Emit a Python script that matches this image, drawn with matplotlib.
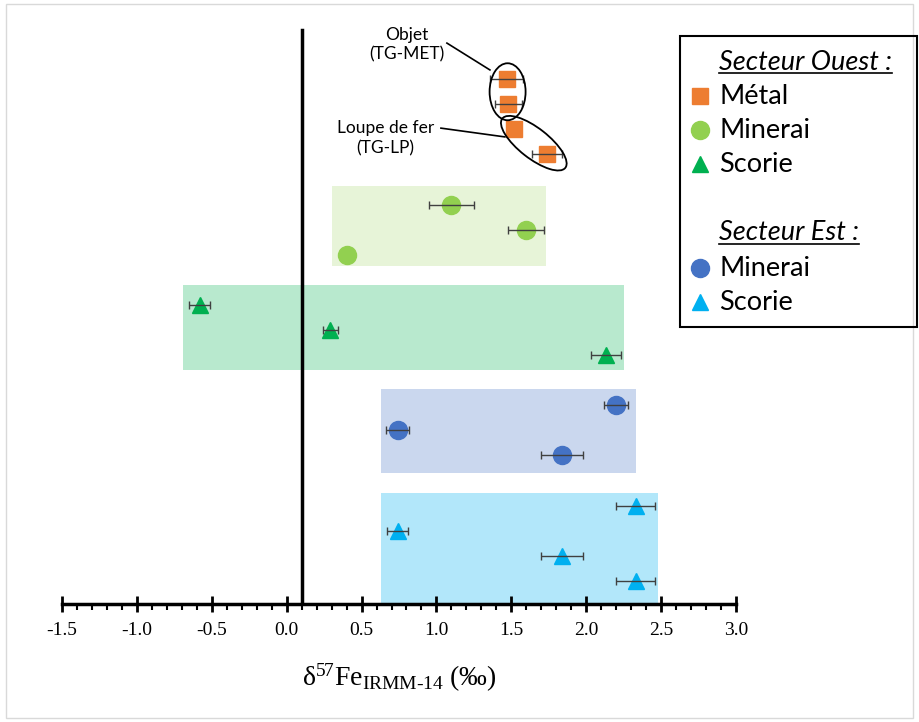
import matplotlib.pyplot as plt
from matplotlib.patches import Rectangle, Ellipse
from matplotlib.lines import Line2D
from matplotlib.transforms import ScaledTranslation

plt.rcParams['mathtext.fontset'] = 'custom'
plt.rcParams['mathtext.rm'] = 'Liberation Serif'

# delta57Fe values (per mil) and 2SD, one row per sample, top to bottom
# (0 = error bar hidden behind the marker)
metal_x = [1.47, 1.48, 1.52, 1.74]
metal_err = [0.11, 0.09, 0.0, 0.10]
min_ouest_x = [1.10, 1.60, 0.40]
min_ouest_err = [0.15, 0.12, 0.0]
sco_ouest_x = [-0.58, 0.29, 2.13]
sco_ouest_err = [0.07, 0.05, 0.10]
min_est_x = [2.20, 0.74, 1.84]
min_est_err = [0.08, 0.08, 0.14]
sco_est_x = [2.33, 0.74, 1.84, 2.33]
sco_est_err = [0.13, 0.07, 0.14, 0.13]

# row index of each sample on the (hidden) vertical axis
metal_y = [0, 1, 2, 3]
min_ouest_y = [5, 6, 7]
sco_ouest_y = [9, 10, 11]
min_est_y = [13, 14, 15]
sco_est_y = [17, 18, 19, 20]

# shaded ranges behind each group: (xmin, xmax, ytop, ybottom)
boxes = [
    (0.30, 1.73, 4.25, 7.45, '#92D050', 0.22),
    (-0.69, 2.25, 8.2, 11.6, '#00B050', 0.28),
    (0.63, 2.33, 12.35, 15.7, '#4472C4', 0.28),
    (0.63, 2.48, 16.5, 20.92, '#00B0F0', 0.30),
]

orange = '#ED7D31'
lgreen = '#92D050'
green = '#00B050'
blue = '#4472C4'
cyan = '#00B0F0'

fig = plt.figure(figsize=(9.19, 7.22), dpi=100)
fig.patches.append(Rectangle((0.006, 0.006), 0.988, 0.988, transform=fig.transFigure,
                             fill=False, edgecolor='#d9d9d9', lw=1))
ax = fig.add_axes([62 / 919, 1 - 604 / 722, (736 - 62) / 919, (604 - 15) / 722])

for x0, x1, y0, y1, c, a in boxes:
    ax.add_patch(Rectangle((x0, y0), x1 - x0, y1 - y0, facecolor=c, alpha=a,
                           edgecolor='none', zorder=1))

ax.axvline(0.1, ymin=0, ymax=(604 - 30) / (604 - 15), color='black', lw=2.5, zorder=2)

groups = [(metal_x, metal_y, metal_err, 's', 11, orange),
          (min_ouest_x, min_ouest_y, min_ouest_err, 'o', 13, lgreen),
          (sco_ouest_x, sco_ouest_y, sco_ouest_err, '^', 12, green),
          (min_est_x, min_est_y, min_est_err, 'o', 13, blue),
          (sco_est_x, sco_est_y, sco_est_err, '^', 12, cyan)]
for gx, gy, ge, m, ms, c in groups:
    ax.plot(gx, gy, ls='none', marker=m, ms=ms, mfc=c, mec=c, zorder=3)
    keep = [i for i in range(len(gx)) if ge[i] > 0]
    ax.errorbar([gx[i] for i in keep], [gy[i] for i in keep], xerr=[ge[i] for i in keep],
                fmt='none', ecolor='#404040', elinewidth=1, capsize=3, capthick=1, zorder=4)

# circled samples (sizes in inches so the tilt is not distorted)
ell_tr = lambda x, y: fig.dpi_scale_trans + ScaledTranslation(x, y, ax.transData)
ax.add_patch(Ellipse((0, 0), 0.36, 0.57, fill=False, ec='black', lw=1.3, zorder=5,
                     transform=ell_tr(1.475, 0.5)))
ax.add_patch(Ellipse((0, 0), 0.80, 0.30, angle=-38, fill=False, ec='black', lw=1.3, zorder=5,
                     transform=ell_tr(1.65, 2.55)))

ax.text(0.80, -1.38, 'Objet\n(TG-MET)', ha='center', va='center', fontsize=12.5,
        family='Lato', linespacing=1.3)
ax.add_line(Line2D([1.07, 1.357], [-1.44, -0.37], color='black', lw=1.2))
ax.text(0.66, 2.34, 'Loupe de fer\n(TG-LP)', ha='center', va='center', fontsize=12.5,
        family='Lato', linespacing=1.3)
ax.add_line(Line2D([1.03, 1.457], [1.95, 2.30], color='black', lw=1.2))

ax.set_xlim(-1.5, 3.0)
ax.set_ylim(20.92, -2.56)
ax.set_xticks([-1.5, -1.0, -0.5, 0.0, 0.5, 1.0, 1.5, 2.0, 2.5, 3.0])
ax.set_xticks([i / 10 for i in range(-15, 31)], minor=True)
ax.set_xticklabels(['-1.5', '-1.0', '-0.5', '0.0', '0.5', '1.0', '1.5', '2.0', '2.5', '3.0'],
                   family='Liberation Serif', fontsize=14)
ax.tick_params(axis='x', which='major', direction='inout', length=12, width=2, pad=7)
ax.tick_params(axis='x', which='minor', direction='out', length=4, width=1.5)
ax.set_yticks([])
for s in ['top', 'right', 'left']:
    ax.spines[s].set_visible(False)
ax.spines['bottom'].set_linewidth(2.5)
ax.patch.set_alpha(0)

ax.set_xlabel(r'$\mathrm{δ^{57}Fe_{IRMM‐14}}$ (‰)', family='Liberation Serif', fontsize=20, labelpad=16)

# legend drawn by hand
fig.patches.append(Rectangle((680 / 919, 1 - 327 / 722), 237 / 919, 291 / 722,
                             transform=fig.transFigure, fill=False, ec='black', lw=1.5))
lfont = dict(family='Lato', fontsize=19.5, va='center', transform=fig.transFigure)
titles = []
titles.append(fig.text(719 / 919, 1 - 62 / 722, 'Secteur Ouest :', style='italic', **lfont))
titles.append(fig.text(719 / 919, 1 - 233 / 722, 'Secteur Est :', style='italic', **lfont))
rows = [('Métal', 's', orange, 96), ('Minerai', 'o', lgreen, 130), ('Scorie', '^', green, 164),
        ('Minerai', 'o', blue, 268), ('Scorie', '^', cyan, 302)]
for lab, m, c, yp in rows:
    fig.add_artist(Line2D([700 / 919], [1 - yp / 722], marker=m, color=c, ms=12 if m != 'o' else 13,
                          ls='none', transform=fig.transFigure))
    fig.text(719 / 919, 1 - yp / 722, lab, **lfont)

fig.canvas.draw()
r = fig.canvas.get_renderer()
for t in titles:
    bb = t.get_window_extent(r).transformed(fig.transFigure.inverted())
    fig.add_artist(Line2D([bb.x0, bb.x1], [bb.y0 + 0.002, bb.y0 + 0.002], color='black', lw=1.2,
                          transform=fig.transFigure))

fig.savefig('out.png', dpi=100)
